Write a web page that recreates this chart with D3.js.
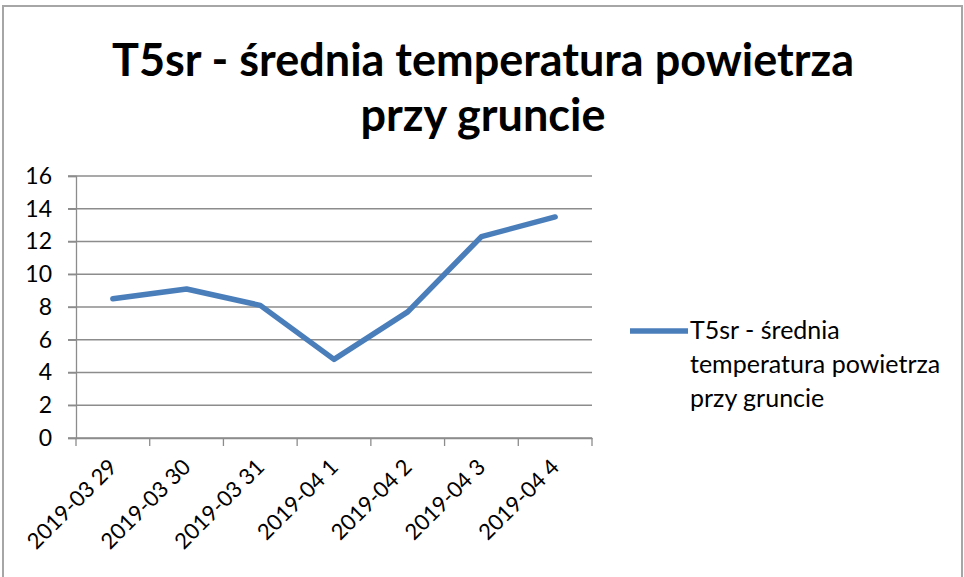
<!DOCTYPE html>
<html>
<head>
<meta charset="utf-8">
<script src="https://d3js.org/d3.v7.min.js"></script>
<style>
    body { margin: 0; background: #fff; }
    svg text { font-family: Lato, "Open Sans", sans-serif; fill: #000; }
</style>
</head>
<body>
<svg id="chart" width="964" height="577"></svg>
<script>
    // data
    const days = ["2019-03 29", "2019-03 30", "2019-03 31", "2019-04 1", "2019-04 2", "2019-04 3", "2019-04 4"];
    const t5sr = [8.5, 9.1, 8.1, 4.8, 7.7, 12.3, 13.5];
    const yTicks = [0, 2, 4, 6, 8, 10, 12, 14, 16];
    const seriesName = "T5sr - średnia temperatura powietrza przy gruncie";
    const titleLines = ["T5sr - średnia temperatura powietrza", "przy gruncie"];
    const legendLines = ["T5sr - średnia", "temperatura powietrza", "przy gruncie"];

    const svg = d3.select("#chart");

    // outer frame
    svg.append("rect")
        .attr("x", 3).attr("y", 6)
        .attr("width", 959).attr("height", 580)
        .attr("fill", "none")
        .attr("stroke", "#a6a6a6")
        .attr("stroke-width", 2);

    // title
    svg.append("g").selectAll("text")
        .data(titleLines)
        .join("text")
        .attr("x", 483)
        .attr("y", (d, i) => 76 + i * 55)
        .attr("text-anchor", "middle")
        .attr("font-size", 45)
        .attr("font-weight", "bold")
        .text(d => d);

    const plot = { left: 76, right: 592, top: 176, bottom: 438 };

    const x = d3.scaleBand()
        .domain(days)
        .range([plot.left, plot.right]);

    const y = d3.scaleLinear()
        .domain([0, 16])
        .range([plot.bottom, plot.top]);

    // gridlines
    svg.append("g")
        .selectAll("line")
        .data(yTicks)
        .join("line")
        .attr("x1", plot.left - 8)
        .attr("x2", plot.right)
        .attr("y1", d => y(d))
        .attr("y2", d => y(d))
        .attr("stroke", "#8c8c8c")
        .attr("stroke-width", 1.3);

    // y axis
    const yAxis = svg.append("g")
        .attr("transform", "translate(" + plot.left + ",0)")
        .call(d3.axisLeft(y).tickValues(yTicks).tickSize(8).tickPadding(16));
    yAxis.select(".domain").attr("stroke", "#8c8c8c").attr("stroke-width", 1.3);
    yAxis.selectAll(".tick line").attr("stroke", "#8c8c8c").attr("stroke-width", 1.3);
    yAxis.selectAll("text").attr("font-size", 23).attr("font-family", "Lato, sans-serif");

    // x axis
    const xAxis = svg.append("g")
        .attr("transform", "translate(0," + plot.bottom + ")")
        .call(d3.axisBottom(x).tickSize(0).tickFormat(""));
    xAxis.select(".domain").attr("stroke", "#8c8c8c").attr("stroke-width", 1.3);

    // x ticks at band edges
    const edges = days.map(d => x(d)).concat([plot.right]);
    svg.append("g")
        .selectAll("line")
        .data(edges)
        .join("line")
        .attr("x1", d => d).attr("x2", d => d)
        .attr("y1", plot.bottom).attr("y2", plot.bottom + 8)
        .attr("stroke", "#8c8c8c")
        .attr("stroke-width", 1.3);

    // x labels, rotated
    svg.append("g")
        .selectAll("text")
        .data(days)
        .join("text")
        .attr("transform", d => "translate(" + (x(d) + x.bandwidth() / 2) + "," + (plot.bottom + 25) + ") rotate(-45)")
        .attr("text-anchor", "end")
        .attr("dy", "0.35em")
        .attr("font-size", 22)
        .text(d => d);

    // series line
    const line = d3.line()
        .x((d, i) => x(days[i]) + x.bandwidth() / 2)
        .y(d => y(d));

    svg.append("path")
        .datum(t5sr)
        .attr("d", line)
        .attr("fill", "none")
        .attr("stroke", "#4a7ebb")
        .attr("stroke-width", 5.5)
        .attr("stroke-linejoin", "round")
        .attr("stroke-linecap", "round");

    // legend
    const legend = svg.append("g").attr("transform", "translate(630,331)");
    legend.append("line")
        .attr("x1", 0).attr("x2", 58)
        .attr("y1", 0).attr("y2", 0)
        .attr("stroke", "#4a7ebb")
        .attr("stroke-width", 5.5);
    legend.selectAll("text")
        .data(legendLines)
        .join("text")
        .attr("x", 60)
        .attr("y", (d, i) => 8 + i * 34)
        .attr("font-size", 25)
        .text(d => d);
    legend.append("title").text(seriesName);
</script>
</body>
</html>
